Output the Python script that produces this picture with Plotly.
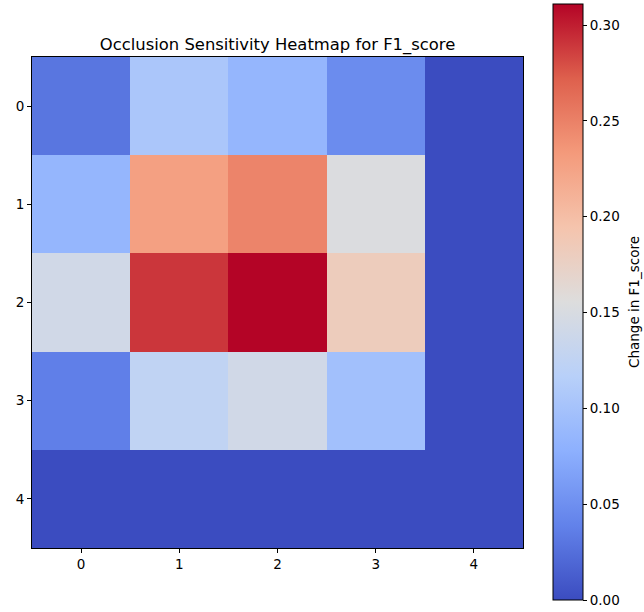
import plotly.graph_objects as go

# Occlusion sensitivity grid (row = vertical patch index, col = horizontal patch index)
rows = [0, 1, 2, 3, 4]
cols = [0, 1, 2, 3, 4]
row0 = [0.030, 0.105, 0.085, 0.047, 0.0]
row1 = [0.085, 0.228, 0.248, 0.153, 0.0]
row2 = [0.142, 0.290, 0.311, 0.182, 0.0]
row3 = [0.037, 0.125, 0.142, 0.097, 0.0]
row4 = [0.0, 0.0, 0.0, 0.0, 0.0]
values = [row0, row1, row2, row3, row4]

cbar_ticks = [0.0, 0.05, 0.10, 0.15, 0.20, 0.25, 0.30]

# matplotlib-style "coolwarm" colormap
coolwarm = [
    [0.000, "rgb(59,76,192)"],
    [0.125, "rgb(98,130,234)"],
    [0.250, "rgb(141,176,254)"],
    [0.375, "rgb(184,208,249)"],
    [0.500, "rgb(221,221,221)"],
    [0.625, "rgb(245,196,173)"],
    [0.750, "rgb(244,154,123)"],
    [0.875, "rgb(222,96,77)"],
    [1.000, "rgb(180,4,38)"],
]

zmax = max(max(r) for r in values)
tick_size = 13.5

fig = go.Figure(
    go.Heatmap(
        z=values,
        x=cols,
        y=rows,
        colorscale=coolwarm,
        zmin=0,
        zmax=zmax,
        colorbar=dict(
            tickvals=cbar_ticks,
            tickformat=".2f",
            ticks="outside",
            ticklen=4,
            tickcolor="black",
            tickfont=dict(size=tick_size, color="black"),
            thickness=30,
            thicknessmode="pixels",
            len=1.214,
            lenmode="fraction",
            y=0.501,
            yanchor="middle",
            x=1.061,
            xanchor="left",
            outlinecolor="black",
            outlinewidth=1,
            xpad=0,
            ypad=0,
        ),
    )
)

# colourbar label, rotated alongside the bar
fig.add_annotation(
    text="Change in F1_score",
    xref="paper", yref="paper",
    x=(634 - 32) / 491, y=(548 - 302) / 491,
    xanchor="center", yanchor="middle",
    textangle=-90,
    showarrow=False,
    font=dict(size=tick_size, color="black"),
)

fig.update_layout(
    width=644,
    height=612,
    margin=dict(l=32, r=121, t=57, b=64, autoexpand=False),
    paper_bgcolor="white",
    plot_bgcolor="white",
    font=dict(family="DejaVu Sans", size=tick_size, color="black"),
    title=dict(
        text="Occlusion Sensitivity Heatmap for F1_score",
        x=0.431,
        xanchor="center",
        y=1 - 44 / 612,
        yanchor="middle",
        font=dict(size=16.4, color="black"),
    ),
)

fig.update_xaxes(
    range=[-0.5, 4.5],
    tickvals=cols,
    ticks="outside",
    ticklen=4,
    tickcolor="black",
    showline=True,
    linecolor="black",
    linewidth=1,
    mirror=True,
    showgrid=False,
    zeroline=False,
)
fig.update_yaxes(
    range=[4.5, -0.5],
    tickvals=rows,
    ticks="outside",
    ticklen=4,
    tickcolor="black",
    showline=True,
    linecolor="black",
    linewidth=1,
    mirror=True,
    showgrid=False,
    zeroline=False,
)

fig.write_html("out.html")
